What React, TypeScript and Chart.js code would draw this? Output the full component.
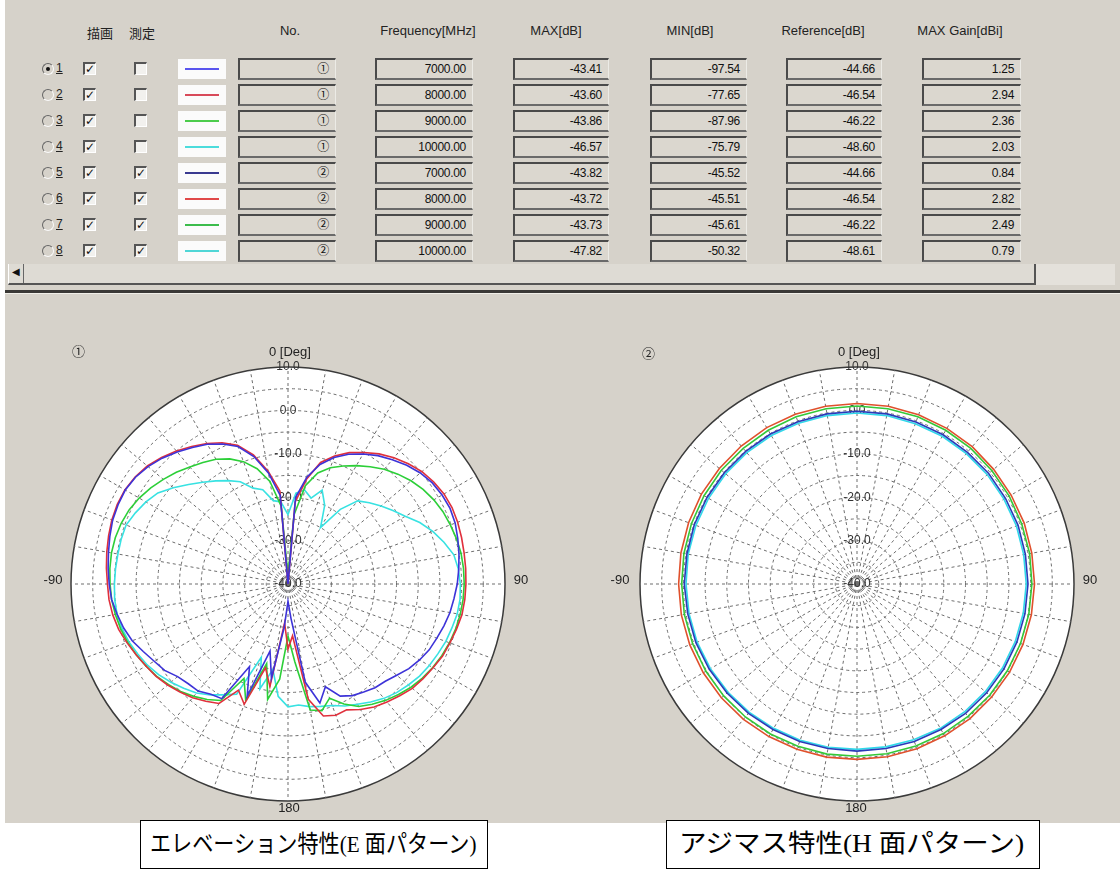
import React, { useEffect, useRef } from 'react';
import { Chart, registerables } from 'chart.js';

Chart.register(...registerables);

// ---------------- table data ----------------
const ROW_IDS = ['1', '2', '3', '4', '5', '6', '7', '8'];
const ROW_NO = ['①', '①', '①', '①', '②', '②', '②', '②'];
const FREQ_MHZ = [7000, 8000, 9000, 10000, 7000, 8000, 9000, 10000];
const MAX_DB = [-43.41, -43.6, -43.86, -46.57, -43.82, -43.72, -43.73, -47.82];
const MIN_DB = [-97.54, -77.65, -87.96, -75.79, -45.52, -45.51, -45.61, -50.32];
const REF_DB = [-44.66, -46.54, -46.22, -48.6, -44.66, -46.54, -46.22, -48.61];
const MAX_GAIN = [1.25, 2.94, 2.36, 2.03, 0.84, 2.82, 2.49, 0.79];
const MEASURED = [false, false, false, false, true, true, true, true];
const ROW_COLORS = ['#5a55ee', '#d84a5a', '#4ccc4c', '#4cdcdc', '#3a3a90', '#e04848', '#3cbc4c', '#50d6d6'];
const HEADERS = ['描画', '測定', 'No.', 'Frequency[MHz]', 'MAX[dB]', 'MIN[dB]', 'Reference[dB]', 'MAX Gain[dBi]'];

// ---------------- polar data ----------------
// E-plane (chart ①): angle labels every 5 degrees, clockwise from top
const E_ANGLES = [
  0, 5, 10, 15, 20, 25, 30, 35, 40, 45, 50, 55, 60, 65, 70, 75, 80, 85,
  90, 95, 100, 105, 110, 115, 120, 125, 130, 135, 140, 145, 150, 155, 160, 165, 170, 175,
  180, 185, 190, 195, 200, 205, 210, 215, 220, 225, 230, 235, 240, 245, 250, 255, 260, 265,
  270, 275, 280, 285, 290, 295, 300, 305, 310, 315, 320, 325, 330, 335, 340, 345, 350, 355,
];
const E_7000 = [
  -40, -20, -15, -11.5, -9, -7, -5.4, -3.9, -2.6, -1.3, -0.2, 0.6, 1.0, 1.2, 1.0, 0.5, 0.0, -0.5,
  -1.0, -1.6, -2.1, -2.8, -3.5, -4.1, -5.0, -6.0, -7.3, -8.3, -8.8, -9.6, -10.3, -11.5, -14.8, -11.6, -17, -32,
  -36, -30, -18, -24, -12.5, -19, -9.5, -9.0, -7.8, -7.5, -6.8, -5.3, -4.4, -3.2, -1.8, -0.8, 0.0, 0.8,
  1.2, 1.6, 2.0, 2.5, 3.0, 3.2, 3.3, 2.9, 2.1, 1.0, -0.3, -1.6, -2.8, -4.4, -6.3, -9.6, -14, -19.5,
];
const E_8000 = [
  -40, -21, -15.5, -11, -8.6, -6.6, -5, -3.4, -2.0, -0.8, 0.3, 1.0, 1.5, 1.7, 1.6, 1.4, 1.2, 1.1,
  1.0, 0.9, 0.7, 0.2, -0.3, -0.7, -1.4, -2.0, -2.6, -3.6, -4.5, -5.4, -6.6, -8.0, -7.8, -8.5, -13, -28,
  -25, -31, -16, -20, -10.5, -13, -8.2, -7.0, -5.8, -4.8, -3.8, -2.9, -2.2, -1.4, -0.5, 0.4, 1.0, 1.4,
  1.6, 2.0, 2.4, 2.8, 3.2, 3.4, 3.4, 3.0, 2.3, 1.2, 0.0, -1.3, -2.6, -4.1, -6.0, -9.2, -13.6, -18.5,
];
const E_9000 = [
  -38, -24, -17, -13.5, -11.5, -10, -8.5, -7, -5.5, -4.2, -3, -2, -1.2, -0.6, -0.2, 0.2, 0.5, 0.6,
  0.6, 0.5, 0.3, 0.0, -0.4, -0.9, -1.5, -2.2, -3.0, -4.0, -5.0, -6.2, -7.4, -9.5, -12, -9.8, -10.5, -22,
  -28, -18, -13, -21, -11.5, -16, -9.0, -7.5, -6.2, -5.0, -4.0, -3.0, -2.2, -1.4, -0.7, -0.1, 0.4, 0.8,
  1.0, 1.2, 1.3, 1.2, 0.9, 0.4, -0.4, -1.4, -2.5, -3.6, -4.8, -5.8, -6.8, -8.2, -10, -12.5, -16, -22,
];
const E_10000 = [
  -24, -19, -18, -19.5, -17, -20, -25, -19, -15, -13.5, -12, -10.5, -8.8, -6.5, -4.5, -2.8, -1.2, -0.6,
  -0.3, -0.2, -0.4, -0.9, -1.3, -1.9, -2.4, -3.0, -3.8, -4.6, -5.6, -6.8, -8.0, -9.0, -10.2, -10.8, -11.3, -12.0,
  -11.7, -14, -20, -15, -22, -12, -10.5, -8.8, -7.2, -6.0, -4.8, -3.6, -2.6, -1.8, -1.0, -0.4, 0.0, 0.1,
  0.0, -0.1, -0.2, -0.2, -0.3, -1.2, -2.2, -3.4, -5.5, -7.6, -9.4, -11, -12.5, -14, -16.5, -17.5, -20.5, -21,
];

// H-plane (chart ②): angle labels every 10 degrees
const H_ANGLES = [
  0, 10, 20, 30, 40, 50, 60, 70, 80, 90, 100, 110, 120, 130, 140, 150, 160, 170,
  180, 190, 200, 210, 220, 230, 240, 250, 260, 270, 280, 290, 300, 310, 320, 330, 340, 350,
];
const H_7000 = [
  -0.2, -0.2, -0.3, -0.3, -0.4, -0.4, -0.5, -0.5, -0.6, -0.6, -0.7, -0.8, -0.9, -1.0, -1.1, -1.3, -1.4, -1.5,
  -1.5, -1.5, -1.4, -1.3, -1.1, -0.9, -0.7, -0.5, -0.4, -0.2, -0.2, -0.1, -0.1, -0.1, -0.1, -0.1, -0.2, -0.2,
];
const H_8000 = [
  1.6, 1.6, 1.5, 1.4, 1.3, 1.1, 1.0, 1.0, 0.9, 0.9, 0.8, 0.7, 0.6, 0.5, 0.5, 0.4, 0.4, 0.4,
  0.4, 0.5, 0.5, 0.6, 0.7, 0.8, 0.9, 1.0, 1.1, 1.1, 1.2, 1.3, 1.4, 1.4, 1.5, 1.6, 1.6, 1.6,
];
const H_9000 = [
  1.0, 1.0, 1.0, 0.9, 0.8, 0.6, 0.5, 0.4, 0.4, 0.3, 0.2, 0.1, 0.0, -0.1, -0.2, -0.2, -0.3, -0.3,
  -0.3, -0.2, -0.2, -0.1, 0.0, 0.1, 0.2, 0.3, 0.4, 0.4, 0.5, 0.6, 0.7, 0.8, 0.8, 0.9, 1.0, 1.0,
];
const H_10000 = [
  -0.6, -0.6, -0.7, -0.7, -0.8, -0.8, -0.9, -0.9, -1.0, -1.0, -1.1, -1.2, -1.3, -1.4, -1.5, -1.6, -1.8, -1.9,
  -1.9, -1.8, -1.7, -1.6, -1.4, -1.2, -1.0, -0.8, -0.7, -0.6, -0.5, -0.5, -0.5, -0.5, -0.5, -0.5, -0.6, -0.6,
];

const R_MIN = -40;
const R_MAX = 10;
const R_STEP = 5;
const DIRECTION_LABELS = ['0 [Deg]', '90', '180', '-90'];

const E_SERIES = [
  { label: '7000', data: E_7000, color: '#3d33d8' },
  { label: '8000', data: E_8000, color: '#e0303c' },
  { label: '9000', data: E_9000, color: '#2ccf38' },
  { label: '10000', data: E_10000, color: '#38e2e2' },
];
const H_SERIES = [
  { label: '7000', data: H_7000, color: '#2a3ab8' },
  { label: '8000', data: H_8000, color: '#e0502c' },
  { label: '9000', data: H_9000, color: '#34c838' },
  { label: '10000', data: H_10000, color: '#30d8ea' },
];

const BG = '#d6d2ca';
const UI_FONT = '"Liberation Sans", "Noto Sans CJK JP", sans-serif';

function PolarChart(props: { angles: number[]; series: { label: string; data: number[]; color: string }[]; left: number; top: number }) {
  const ref = useRef<HTMLCanvasElement>(null);
  useEffect(() => {
    const angles = props.angles;
    const chart = new Chart(ref.current as HTMLCanvasElement, {
      type: 'radar',
      data: {
        labels: angles.map((a) => String(a)),
        datasets: props.series.map((s) => ({
          label: s.label,
          data: s.data,
          borderColor: s.color,
          backgroundColor: 'transparent',
          borderWidth: 1.6,
          pointRadius: 0,
          fill: false,
          tension: 0,
        })),
      },
      options: {
        animation: false,
        responsive: false,
        maintainAspectRatio: false,
        layout: { padding: { left: 33, right: 33, top: 20, bottom: 12 } },
        plugins: { legend: { display: false }, tooltip: { enabled: false } },
        scales: {
          r: {
            min: R_MIN,
            max: R_MAX,
            startAngle: 0,
            backgroundColor: '#ffffff',
            grid: {
              circular: true,
              color: (c: any) => (c.tick && c.tick.value === R_MAX ? '#3a3a3a' : '#6e6e6e'),
              lineWidth: (c: any) => (c.tick && c.tick.value === R_MAX ? 1.5 : 1),
            },
            border: {
              dash: (c: any) => (c.tick && c.tick.value === R_MAX ? [] : [3, 3]),
            },
            angleLines: {
              display: true,
              color: '#6e6e6e',
              lineWidth: (c: any) => (angles[c.index] % 10 === 0 ? 1 : 0),
              borderDash: [3, 3],
            },
            pointLabels: { display: false },
            ticks: {
              stepSize: R_STEP,
              showLabelBackdrop: false,
              color: '#333333',
              font: { size: 12, family: '"Liberation Sans", sans-serif' },
              callback: (v: any) => (Number(v) % 10 === 0 ? Number(v).toFixed(1) : ''),
            },
          },
        },
      },
    } as any);
    return () => chart.destroy();
  }, []);
  return (
    <canvas
      ref={ref}
      width={516}
      height={490}
      style={{ position: 'absolute', left: props.left, top: props.top, width: 516, height: 490 }}
    />
  );
}

const abs = (left: number, top: number, extra: any = {}) => ({ position: 'absolute' as const, left, top, ...extra });

function SunkenBox(props: { left: number; width: number; y: number; text: string }) {
  return (
    <div
      style={abs(props.left, props.y - 11, {
        width: props.width,
        height: 22,
        boxSizing: 'border-box',
        borderTop: '2px solid #4a4a4a',
        borderLeft: '2px solid #4a4a4a',
        borderBottom: '2px solid #6a6a6a',
        borderRight: '1px solid #ecebe6',
        background: '#dbd7cf',
        textAlign: 'right',
        paddingRight: 6,
        font: `12px ${UI_FONT}`,
        lineHeight: '18px',
        color: '#111',
        letterSpacing: '-0.3px',
      })}
    >
      {props.text}
    </div>
  );
}

function CheckBox(props: { x: number; y: number; checked: boolean }) {
  return (
    <div
      style={abs(props.x, props.y - 7, {
        width: 13,
        height: 13,
        boxSizing: 'border-box',
        borderTop: '2px solid #555',
        borderLeft: '2px solid #555',
        borderBottom: '1px solid #fff',
        borderRight: '1px solid #fff',
        background: '#f2f1ee',
        font: `bold 12px "DejaVu Sans", sans-serif`,
        lineHeight: '10px',
        textAlign: 'center',
        color: '#111',
      })}
    >
      {props.checked ? '✓' : ''}
    </div>
  );
}

function Radio(props: { x: number; y: number; selected: boolean }) {
  return (
    <div
      style={abs(props.x, props.y - 6, {
        width: 12,
        height: 12,
        boxSizing: 'border-box',
        borderRadius: '50%',
        borderTop: '1.5px solid #666',
        borderLeft: '1.5px solid #666',
        borderBottom: '1.5px solid #fafafa',
        borderRight: '1.5px solid #fafafa',
        background: BG,
      })}
    >
      {props.selected ? (
        <div style={abs(2.5, 2.5, { width: 4, height: 4, borderRadius: '50%', background: '#111' })} />
      ) : null}
    </div>
  );
}

export default function App() {
  const rowY = (i: number) => 69 + i * 26;
  const headerX = [100, 142, 290, 428, 556, 690, 823, 960];
  const boxCols = [
    { left: 238, width: 98 },
    { left: 375, width: 98 },
    { left: 513, width: 96 },
    { left: 650, width: 97 },
    { left: 786, width: 96 },
    { left: 922, width: 99 },
  ];
  const dirStyle = { textAlign: 'center', font: `13px ${UI_FONT}`, color: '#222' };
  return (
    <div style={abs(0, 0, { width: 1120, height: 871, background: '#ffffff', overflow: 'hidden' })}>
      <div style={abs(5, 0, { width: 1115, height: 823, background: BG })} />

      {/* headers */}
      {HEADERS.map((h, i) => (
        <div
          key={h}
          style={abs(headerX[i] - 70, 23, {
            width: 140,
            textAlign: 'center',
            font: `13px ${UI_FONT}`,
            color: '#222',
          })}
        >
          {h}
        </div>
      ))}

      {/* rows */}
      {ROW_IDS.map((id, i) => {
        const y = rowY(i);
        return (
          <React.Fragment key={id}>
            <Radio x={42} y={y} selected={i === 0} />
            <div style={abs(56, y - 8, { font: `12px ${UI_FONT}`, color: '#222', textDecoration: 'underline' })}>{id}</div>
            <CheckBox x={83} y={y} checked={true} />
            <CheckBox x={134} y={y} checked={MEASURED[i]} />
            <div style={abs(178, y - 10, { width: 48, height: 20, background: '#fbfbfb' })}>
              <div style={abs(7, 9, { width: 34, height: 2, background: ROW_COLORS[i] })} />
            </div>
            <SunkenBox left={boxCols[0].left} width={boxCols[0].width} y={y} text={ROW_NO[i]} />
            <SunkenBox left={boxCols[1].left} width={boxCols[1].width} y={y} text={FREQ_MHZ[i].toFixed(2)} />
            <SunkenBox left={boxCols[2].left} width={boxCols[2].width} y={y} text={MAX_DB[i].toFixed(2)} />
            <SunkenBox left={boxCols[3].left} width={boxCols[3].width} y={y} text={MIN_DB[i].toFixed(2)} />
            <SunkenBox left={boxCols[4].left} width={boxCols[4].width} y={y} text={REF_DB[i].toFixed(2)} />
            <SunkenBox left={boxCols[5].left} width={boxCols[5].width} y={y} text={MAX_GAIN[i].toFixed(2)} />
          </React.Fragment>
        );
      })}

      {/* scrollbar */}
      <div
        style={abs(8, 264, {
          width: 1028,
          height: 21,
          boxSizing: 'border-box',
          background: '#dedbd4',
          borderBottom: '2px solid #555',
          borderRight: '2px solid #555',
          borderLeft: '1px solid #fff',
        })}
      >
        <div style={abs(3, 2, { font: `10px "DejaVu Sans", sans-serif`, color: '#111' })}>◀</div>
        <div style={abs(14, 0, { width: 1, height: 19, background: '#666' })} />
      </div>
      <div style={abs(1036, 264, { width: 79, height: 21, background: '#e4e1db' })} />
      <div style={abs(5, 290, { width: 1115, height: 3, background: '#3a3836' })} />
      <div style={abs(5, 293, { width: 1115, height: 1, background: '#f0eee8' })} />

      {/* polar charts */}
      <PolarChart angles={E_ANGLES} series={E_SERIES} left={30} top={335} />
      <PolarChart angles={H_ANGLES} series={H_SERIES} left={599} top={335} />

      {/* chart annotations */}
      <div style={abs(72, 341, { font: `13px "Noto Sans CJK JP", sans-serif`, color: '#222' })}>①</div>
      <div style={abs(642, 343, { font: `13px "Noto Sans CJK JP", sans-serif`, color: '#222' })}>②</div>
      {[290, 859].map((cx, k) => (
        <div key={'top' + k} style={abs(cx - 40, 344, { width: 80, ...dirStyle })}>
          {DIRECTION_LABELS[0]}
        </div>
      ))}
      {[521, 1090].map((cx, k) => (
        <div key={'r' + k} style={abs(cx - 20, 572, { width: 40, ...dirStyle })}>
          {DIRECTION_LABELS[1]}
        </div>
      ))}
      {[289, 856].map((cx, k) => (
        <div key={'b' + k} style={abs(cx - 20, 800, { width: 40, ...dirStyle })}>
          {DIRECTION_LABELS[2]}
        </div>
      ))}
      {[53, 620].map((cx, k) => (
        <div key={'l' + k} style={abs(cx - 20, 572, { width: 40, ...dirStyle })}>
          {DIRECTION_LABELS[3]}
        </div>
      ))}

      {/* captions */}
      <div
        style={abs(140, 820, {
          width: 348,
          height: 49,
          boxSizing: 'border-box',
          border: '1.5px solid #000',
          background: '#fff',
          overflow: 'hidden',
        })}
      >
        <div
          style={abs(9, 0, {
            font: `24px "Liberation Serif", "Noto Sans CJK JP", serif`,
            lineHeight: '46px',
            whiteSpace: 'nowrap',
            color: '#000',
            transform: 'scaleX(0.88)',
            transformOrigin: 'left center',
          })}
        >
          エレベーション特性(E 面パターン)
        </div>
      </div>
      <div
        style={abs(666, 820, {
          width: 374,
          height: 49,
          boxSizing: 'border-box',
          border: '1.5px solid #000',
          background: '#fff',
          overflow: 'hidden',
        })}
      >
        <div
          style={abs(12, 0, {
            font: `25px "Liberation Serif", "Noto Sans CJK JP", serif`,
            lineHeight: '46px',
            whiteSpace: 'nowrap',
            color: '#000',
            transform: 'scaleX(1.1)',
            transformOrigin: 'left center',
          })}
        >
          アジマス特性(H 面パターン)
        </div>
      </div>
    </div>
  );
}
